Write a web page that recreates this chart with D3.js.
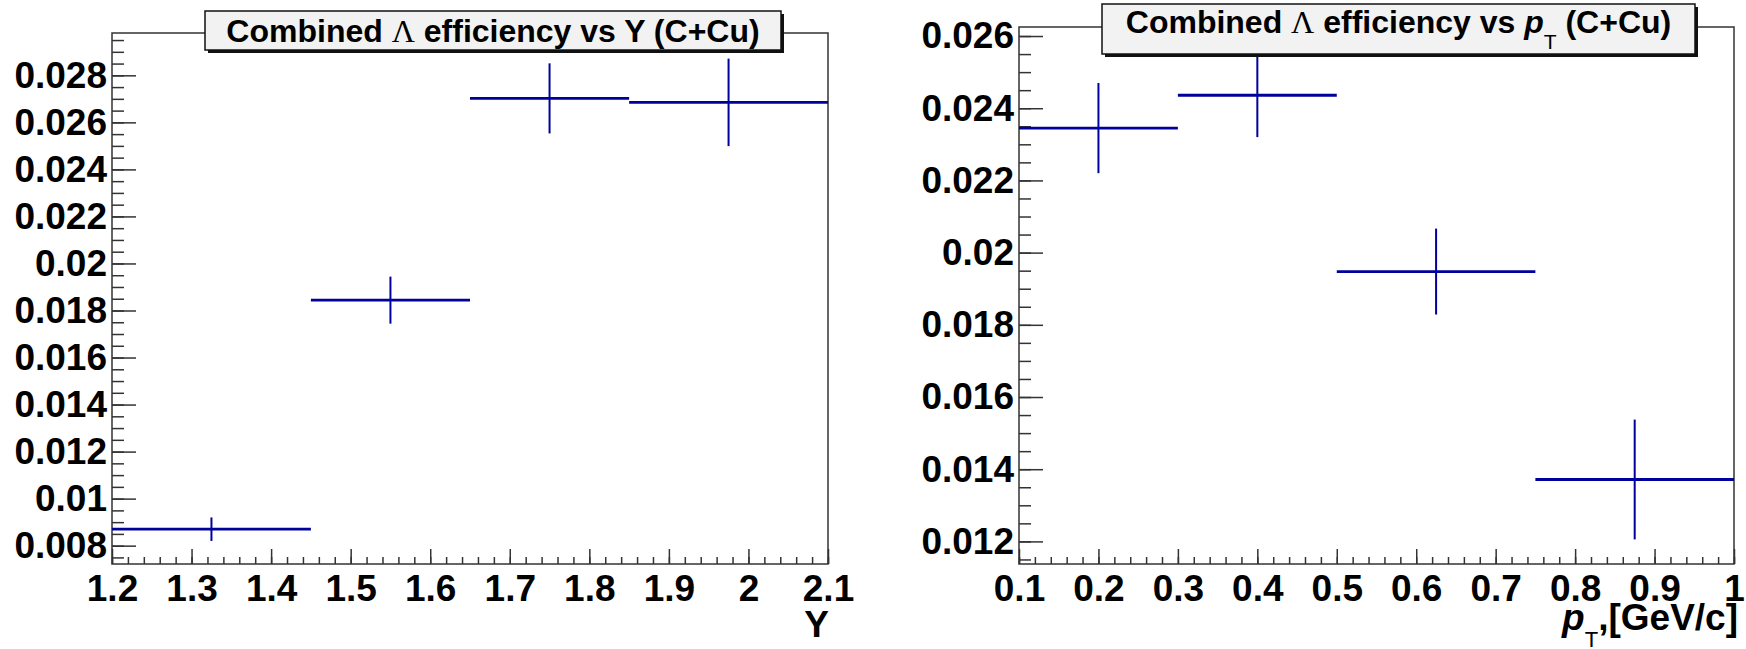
<!DOCTYPE html>
<html>
<head>
<meta charset="utf-8">
<script src="https://cdn.jsdelivr.net/npm/d3@7"></script>
<style>
  html, body { margin: 0; padding: 0; background: #fff; }
  svg { display: block; }
  text { font-family: "Liberation Sans", Arial, Helvetica, sans-serif; font-weight: bold; fill: #000; }
</style>
</head>
<body>
<svg id="chart" width="1746" height="649"></svg>
<script>
// ---- data ----
// efficiency vs rapidity Y
var rapLow = [1.2, 1.45, 1.65, 1.85];
var rapHigh = [1.45, 1.65, 1.85, 2.1];
var rapEff = [0.0087, 0.01844, 0.02702, 0.02685];
var rapErr = [0.0005, 0.0010, 0.00149, 0.00186];

// efficiency vs pT
var ptLow = [0.1, 0.3, 0.5, 0.75];
var ptHigh = [0.3, 0.5, 0.75, 1.0];
var ptEff = [0.02345, 0.02436, 0.019475, 0.013715];
var ptErr = [0.00125, 0.00116, 0.00119, 0.00166];

// tick labels
var rapYTicks = [0.008, 0.010, 0.012, 0.014, 0.016, 0.018, 0.020, 0.022, 0.024, 0.026, 0.028];
var rapXTicks = [1.2, 1.3, 1.4, 1.5, 1.6, 1.7, 1.8, 1.9, 2.0, 2.1];
var ptYTicks = [0.012, 0.014, 0.016, 0.018, 0.020, 0.022, 0.024, 0.026];
var ptXTicks = [0.1, 0.2, 0.3, 0.4, 0.5, 0.6, 0.7, 0.8, 0.9, 1.0];

var svg = d3.select('#chart');
var lineColor = '#00009a';

function fmt(d) {
  return String(+d.toFixed(4));
}

function minorTicks(lo, hi, step) {
  var n = Math.round((hi - lo) / step);
  return d3.range(n + 1).map(function(i) { return lo + i * step; });
}

function drawPanel(_p) {
  var x = d3.scaleLinear().domain(_p.xDomain).range([_p.left, _p.right]);
  var y = d3.scaleLinear().domain(_p.yDomain).range([_p.bottom, _p.top]);

  var g = svg.append('g');

  // minor ticks (inside the frame)
  g.append('g')
    .attr('transform', 'translate(' + _p.left + ',0)')
    .call(d3.axisLeft(y).tickValues(minorTicks(_p.yMinor[0], _p.yMinor[1], 0.0005)
      .filter(function(v) { return v >= _p.yDomain[0] && v <= _p.yDomain[1]; }))
      .tickSizeInner(-12).tickSizeOuter(0).tickFormat(''))
    .call(function(s) { s.select('.domain').remove(); s.selectAll('text').remove(); });

  g.append('g')
    .attr('transform', 'translate(0,' + _p.bottom + ')')
    .call(d3.axisBottom(x).tickValues(minorTicks(_p.xDomain[0], _p.xDomain[1], 0.02))
      .tickSizeInner(-7).tickSizeOuter(0).tickFormat(''))
    .call(function(s) { s.select('.domain').remove(); s.selectAll('text').remove(); });

  // major ticks + labels
  var ya = g.append('g')
    .attr('transform', 'translate(' + _p.left + ',0)')
    .call(d3.axisLeft(y).tickValues(_p.yTicks)
      .tickSizeInner(-24).tickSizeOuter(0).tickPadding(5).tickFormat(fmt));
  ya.select('.domain').remove();

  var xa = g.append('g')
    .attr('transform', 'translate(0,' + _p.bottom + ')')
    .call(d3.axisBottom(x).tickValues(_p.xTicks)
      .tickSizeInner(-15).tickSizeOuter(0).tickPadding(11).tickFormat(fmt));
  xa.select('.domain').remove();

  g.selectAll('.tick line').attr('stroke', '#333').attr('stroke-width', 1.5);
  g.selectAll('.tick text')
    .attr('font-family', '"Liberation Sans", Arial, sans-serif')
    .attr('font-weight', 'bold')
    .attr('font-size', 37)
    .attr('fill', '#000');
  g.selectAll('g').attr('font-size', null).attr('font-family', null);

  // frame
  g.append('rect')
    .attr('x', _p.left).attr('y', _p.top)
    .attr('width', _p.right - _p.left).attr('height', _p.bottom - _p.top)
    .attr('fill', 'none').attr('stroke', '#333').attr('stroke-width', 1.5);

  // data crosses
  var pts = _p.lo.map(function(lo, i) {
    return { lo: lo, hi: _p.hi[i], v: _p.eff[i], e: _p.err[i] };
  });

  g.selectAll('.hbar').data(pts).enter().append('line')
    .attr('class', 'hbar')
    .attr('x1', function(d) { return x(d.lo); })
    .attr('x2', function(d) { return x(d.hi); })
    .attr('y1', function(d) { return y(d.v); })
    .attr('y2', function(d) { return y(d.v); })
    .attr('stroke', lineColor).attr('stroke-width', 2.8);

  g.selectAll('.vbar').data(pts).enter().append('line')
    .attr('class', 'vbar')
    .attr('x1', function(d) { return x((d.lo + d.hi) / 2); })
    .attr('x2', function(d) { return x((d.lo + d.hi) / 2); })
    .attr('y1', function(d) { return y(d.v - d.e); })
    .attr('y2', function(d) { return y(d.v + d.e); })
    .attr('stroke', lineColor).attr('stroke-width', 2);

  // title box
  var b = _p.box;
  g.append('rect')
    .attr('x', b.x + 3).attr('y', b.y + 3).attr('width', b.w).attr('height', b.h)
    .attr('fill', '#111');
  g.append('rect')
    .attr('x', b.x).attr('y', b.y).attr('width', b.w).attr('height', b.h)
    .attr('fill', '#f2f2f2').attr('stroke', '#111').attr('stroke-width', 1.5);

  var t = g.append('text')
    .attr('x', b.x + b.w / 2)
    .attr('y', _p.titleY)
    .attr('text-anchor', 'middle')
    .attr('font-size', _p.titleSize);
  _p.titleParts(t);

  _p.axisTitle(g);
}

drawPanel({
  left: 112, right: 828, top: 33, bottom: 564,
  xDomain: [1.2, 2.1], yDomain: [0.00722, 0.0298],
  yMinor: [0.0070, 0.0300],
  xTicks: rapXTicks, yTicks: rapYTicks,
  lo: rapLow, hi: rapHigh, eff: rapEff, err: rapErr,
  box: { x: 205, y: 11, w: 576, h: 39 },
  titleY: 42, titleSize: 32,
  titleParts: function(t) {
    t.append('tspan').text('Combined ');
    t.append('tspan').attr('font-family', '"Liberation Serif", serif').attr('font-weight', 'normal').text('\u039B');
    t.append('tspan').text(' efficiency vs Y (C+Cu)');
  },
  axisTitle: function(g) {
    g.append('text').attr('x', 829).attr('y', 637).attr('text-anchor', 'end')
      .attr('font-size', 37).text('Y');
  }
});

drawPanel({
  left: 1019, right: 1734, top: 27, bottom: 564,
  xDomain: [0.1, 1.0], yDomain: [0.011374, 0.02625],
  yMinor: [0.0110, 0.0265],
  xTicks: ptXTicks, yTicks: ptYTicks,
  lo: ptLow, hi: ptHigh, eff: ptEff, err: ptErr,
  box: { x: 1102, y: 4, w: 593, h: 50 },
  titleY: 33, titleSize: 32,
  titleParts: function(t) {
    t.append('tspan').text('Combined ');
    t.append('tspan').attr('font-family', '"Liberation Serif", serif').attr('font-weight', 'normal').text('\u039B');
    t.append('tspan').text(' efficiency vs  ');
    t.append('tspan').attr('font-style', 'italic').text('p');
    t.append('tspan').attr('font-size', 21).attr('font-weight', 'normal').attr('dy', 16).text('T');
    t.append('tspan').attr('dy', -16).text(' (C+Cu)');
  },
  axisTitle: function(g) {
    var a = g.append('text').attr('x', 1738).attr('y', 630).attr('text-anchor', 'end')
      .attr('font-size', 37);
    a.append('tspan').attr('font-style', 'italic').text('p');
    a.append('tspan').attr('font-size', 22).attr('font-weight', 'normal').attr('dy', 17).text('T');
    a.append('tspan').attr('dy', -17).text(',[GeV/c]');
  }
});
</script>
</body>
</html>
